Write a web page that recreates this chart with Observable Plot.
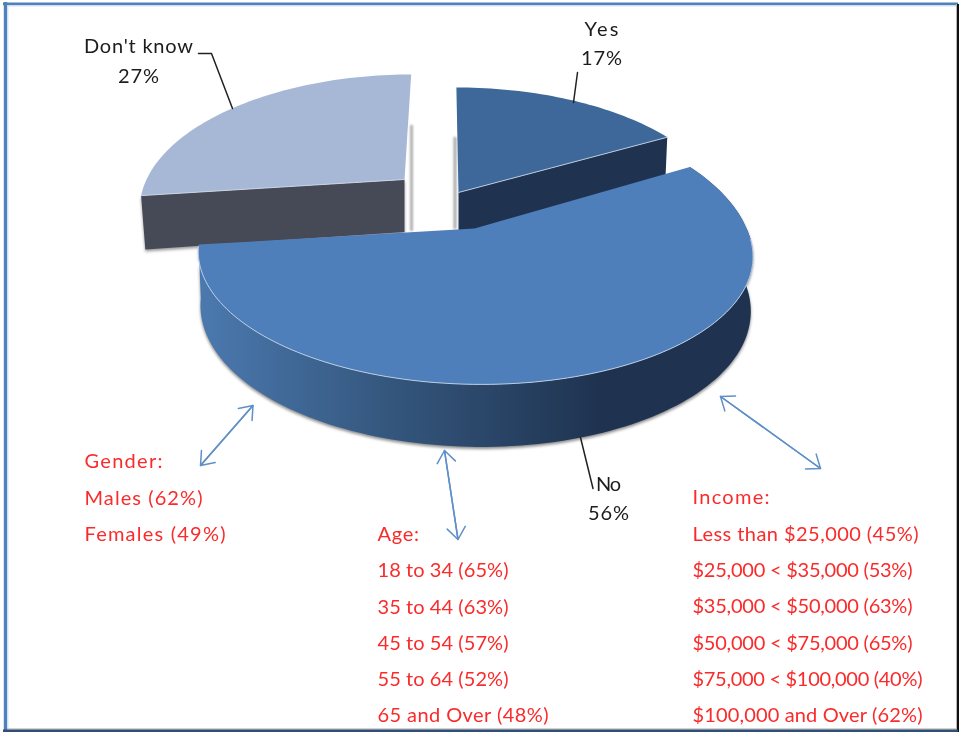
<!DOCTYPE html>
<html><head><meta charset="utf-8">
<script src="https://cdn.jsdelivr.net/npm/d3@7"></script>
<script src="https://cdn.jsdelivr.net/npm/@observablehq/plot@0.6"></script>
<style>html,body{margin:0;padding:0;background:#fff}svg{display:block}</style>
</head><body><div id="chart"></div>
<script>
// Data
const answers = ["Yes", "No", "Don't know"];
const shares = [17, 56, 27];
const genderLines = ["Gender:", "Males (62%)", "Females (49%)"];
const ageLines = ["Age:", "18 to 34 (65%)", "35 to 44 (63%)", "45 to 54 (57%)", "55 to 64 (52%)", "65 and Over (48%)"];
const incomeLines = ["Income:", "Less than $25,000 (45%)", "$25,000 < $35,000 (53%)", "$35,000 < $50,000 (63%)", "$50,000 < $75,000 (65%)", "$75,000 < $100,000 (40%)", "$100,000 and Over (62%)"];

// Layout of the drawn 3D pie
const W = 959, H = 732, vx = 445, k = 0.195, g = 125.5;
const look = {
  "Yes":        {ax: 458, ay: 192, f: 262, shrink: 0.99, lift: 0, top: "#3d6899", wall: "#1f3350"},
  "No":         {ax: 474, ay: 228, f: 272, shrink: 0.992, lift: 13, top: "#4f7fba", wall: "url(#noWall)"},
  "Don't know": {ax: 404, ay: 179, f: 258, shrink: 0.984, lift: 0, top: "#a7b8d6", wall: "#454a56"}
};
const FONT = "Lato, Carlito, Calibri, sans-serif";
const TEXT_SIZE = 20, LINE = 36.3;
// Rendered width of each label line, fitted to the reference's type
const lineWidths = {
  "Gender:": 78, "Males (62%)": 118, "Females (49%)": 141,
  "Age:": 41.5, "18 to 34 (65%)": 131, "35 to 44 (63%)": 131, "45 to 54 (57%)": 131, "55 to 64 (52%)": 131, "65 and Over (48%)": 171,
  "Income:": 77, "Less than $25,000 (45%)": 226, "$25,000 < $35,000 (53%)": 220, "$35,000 < $50,000 (63%)": 220, "$50,000 < $75,000 (65%)": 220, "$75,000 < $100,000 (40%)": 230, "$100,000 and Over (62%)": 230,
  "Don't know": 109, "27%": 41, "Yes": 34, "17%": 41, "No": 25, "56%": 41
};

function pt(s, deg, r = 1) {
  const t = deg * Math.PI / 180, z = r * Math.cos(t), x = r * Math.sin(t), p = 1 / (1 + k * z);
  return {x: vx + (s.ax - vx + s.f * x) * p, y: s.ay - g * z * p - s.lift * Math.max(z, 0), z};
}
const low = (s, q) => ({x: s.ax + (q.x - s.ax) * s.shrink, y: q.y + 52.5 - 10 * q.z, z: q.z});
function arc(s, a0, a1) {
  const n = Math.max(2, Math.ceil(Math.abs(a1 - a0) / 1.5));
  return d3.range(n + 1).map(i => pt(s, a0 + (a1 - a0) * i / n));
}
// angles of each slice come from the shares
let cum = 0;
const slices = answers.map((name, i) => {
  const a0 = cum * 3.6; cum += shares[i]; const a1 = cum * 3.6;
  return {name, a0, a1, s: look[name]};
});
const tops = {};
for (const {name, a0, a1, s} of slices) {
  const apex = pt(s, 0, 0);
  tops[name] = [apex, ...arc(s, a0, a1)];
}
const yes = slices[0], no = slices[1], dk = slices[2];
const yesCorner = pt(yes.s, yes.a1), yesApex = pt(yes.s, 0, 0);
const dkCorner = pt(dk.s, dk.a0), dkApex = pt(dk.s, 0, 0);
const yesWall = [yesApex, yesCorner, low(yes.s, yesCorner), low(yes.s, yesApex)];
const dkWall = [dkCorner, dkApex, low(dk.s, dkApex), low(dk.s, dkCorner)];
const noRim = arc(no.s, no.a0, no.a1);
const noWall = [...noRim, ...noRim.map(q => low(no.s, q)).reverse()];
const noEdge = arc(no.s, 95, 262);
const fillPoly = (data, fill, extra = {}) => Plot.line(data, {x: "x", y: "y", fill, stroke: "none", curve: "linear-closed", ...extra});

// Text blocks
const block = (lines, x, y0) => lines.map((text, i) => ({text, x, y: y0 + i * LINE}));
const redText = [...block(genderLines, 84, 461.5), ...block(ageLines, 377, 534), ...block(incomeLines, 692, 497.5)];
const blackText = [
  {text: answers[0], x: 601, y: 29}, {text: shares[0] + "%", x: 601, y: 58},
  {text: answers[2], x: 138, y: 46}, {text: shares[2] + "%", x: 138, y: 76},
  {text: answers[1], x: 608, y: 484}, {text: shares[1] + "%", x: 608, y: 513}
];
const leaders = [
  [[198, 53], [211, 53], [232, 108]],
  [[577, 72], [573, 102]],
  [[580, 437], [592.5, 488]]
].flatMap((l, id) => l.map(([x, y]) => ({x, y, id})));
const arrows = [
  {x1: 252.5, y1: 405, x2: 200, y2: 465},
  {x1: 444, y1: 450, x2: 457.5, y2: 539},
  {x1: 720, y1: 396, x2: 820, y2: 468}
];
const flip = a => ({x1: a.x2, y1: a.y2, x2: a.x1, y2: a.y1});
const arrowStyle = {x1: "x1", y1: "y1", x2: "x2", y2: "y2", bend: 0, stroke: "#5f8fc8", strokeWidth: 1.5, headLength: 15, headAngle: 75};

const defs = () => {
  const d = d3.create("svg:defs");
  const lg = d.append("linearGradient").attr("id", "noWall").attr("gradientUnits", "userSpaceOnUse")
    .attr("x1", 200).attr("x2", 600).attr("y1", 0).attr("y2", 0);
  lg.append("stop").attr("offset", 0).attr("stop-color", "#4b79af");
  lg.append("stop").attr("offset", 0.45).attr("stop-color", "#35587f");
  lg.append("stop").attr("offset", 1).attr("stop-color", "#1f3350");
  return d.node();
};

const chart = Plot.plot({
  width: W, height: H, margin: 0,
  x: {domain: [0, W], range: [0, W], axis: null},
  y: {domain: [0, H], range: [0, H], axis: null},
  style: {background: "#fff", fontFamily: FONT},
  marks: [
    defs,
    // frame
    Plot.ruleX([5], {y1: 2, y2: 732, stroke: "#4f81bd", strokeWidth: 3.4}),
    Plot.ruleX([7.3], {y1: 4, y2: 729, stroke: "#d3dfee", strokeWidth: 1.2}),
    Plot.ruleY([3.3], {x1: 3, x2: 958, stroke: "#4f81bd", strokeWidth: 2.8}),
    Plot.ruleY([5.3], {x1: 7, x2: 956, stroke: "#d3dfee", strokeWidth: 1.2}),
    Plot.ruleX([956], {y1: 4, y2: 730, stroke: "#b5b5b5", strokeWidth: 1}),
    Plot.ruleX([957.5], {y1: 4, y2: 732, stroke: "#101010", strokeWidth: 2}),
    Plot.ruleY([728.5], {x1: 7, x2: 956, stroke: "#a8a8a8", strokeWidth: 1.2}),
    Plot.ruleY([730.5], {x1: 3, x2: 958, stroke: "#2f4f74", strokeWidth: 3}),
    // shadows
    Plot.ruleX([411], {y1: 125, y2: 231, stroke: "#b0b0b0", strokeWidth: 3, imageFilter: "blur(1px)"}),
    Plot.ruleX([454.5], {y1: 137, y2: 229, stroke: "#a8a8a8", strokeWidth: 3, imageFilter: "blur(1px)"}),
    fillPoly(dkWall, "#999", {dy: 2, imageFilter: "blur(1.5px)"}),
    // slices
    fillPoly(dkWall, look["Don't know"].wall),
    fillPoly(tops["Don't know"], look["Don't know"].top),
    fillPoly(yesWall, look["Yes"].wall),
    fillPoly(tops["Yes"], look["Yes"].top),
    Plot.line([yesApex, yesCorner], {x: "x", y: "y", stroke: "#b9c7da", strokeWidth: 1}),
    Plot.line([dkCorner, dkApex], {x: "x", y: "y", stroke: "#c9d2e2", strokeWidth: 1}),
    fillPoly(noWall, "#8a8a8a", {dy: 2, imageFilter: "blur(1.5px)"}),
    fillPoly(noWall, look["No"].wall),
    fillPoly(tops["No"], look["No"].top),
    Plot.line(noEdge, {x: "x", y: "y", stroke: "#b9cbe2", strokeWidth: 1}),
    // leaders and arrows
    Plot.line(leaders, {x: "x", y: "y", z: "id", stroke: "#222", strokeWidth: 1.5}),
    Plot.arrow(arrows, arrowStyle),
    Plot.arrow(arrows.map(flip), arrowStyle),
    // text
    Plot.text(redText, {x: "x", y: "y", text: "text", textAnchor: "start", fill: "#fa2b2b", fontSize: TEXT_SIZE, fontFamily: FONT}),
    Plot.text(blackText, {x: "x", y: "y", text: "text", textAnchor: "middle", fill: "#1c1c1c", fontSize: TEXT_SIZE, fontFamily: FONT})
  ]
});
chart.querySelectorAll("text").forEach(t => {
  const w = lineWidths[t.textContent];
  if (w) { t.setAttribute("textLength", w); t.setAttribute("lengthAdjust", "spacing"); }
});
chart.style.filter = "blur(0.45px)";
document.getElementById("chart").append(chart);
</script></body></html>
